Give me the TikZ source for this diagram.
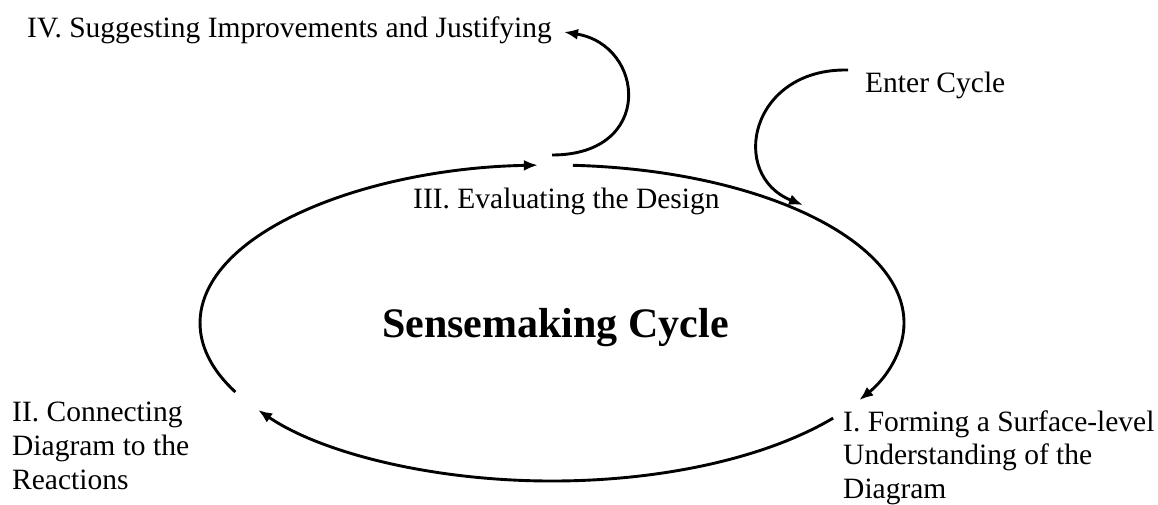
\documentclass[tikz,border=0pt]{standalone}
\usepackage{fontspec}
\setmainfont{Liberation Serif}
\usetikzlibrary{arrows.meta,calc}
\begin{document}
\begin{tikzpicture}[x=1pt,y=1pt,
  flow/.style={line width=2.9pt,-{Latex[length=14pt,width=11pt]}},
  label/.style={inner sep=0pt,font=\fontsize{29.5}{34}\selectfont,align=left},
  stage/.style={inner sep=0pt,font=\fontsize{29.5}{33.5}\selectfont,align=left}]
\useasboundingbox (0,0) rectangle (1158,-504);

% centre and radii of the cycle
\coordinate (C) at (552,-323);

% points on the cycle where the three arcs start
\coordinate (s1) at ($(C)+(86.6:352 and 158)$);
\coordinate (s2) at ($(C)+(-37:352 and 158)$);
\coordinate (s3) at ($(C)+(205.9:352 and 158)$);

% labels
\node[label,anchor=base west] (iv) at (27,-37) {IV. Suggesting Improvements and Justifying};
\node[label,anchor=base west] (enter) at (865,-92.5) {Enter Cycle};
\node[label,anchor=base west] (iii) at (413,-208) {III. Evaluating the Design};
\node[label,anchor=base west] (ii) at (12,-489) {II. Connecting\\Diagram to the\\Reactions};
\node[stage,anchor=base west] (i) at (843,-498) {I. Forming a Surface-level\\Understanding of the\\Diagram};
\node[inner sep=0pt,anchor=base,font=\fontsize{42}{48}\selectfont\bfseries] (title) at (555.5,-337) {Sensemaking Cycle};

% the three arcs of the cycle
\draw[flow] (s1) arc[start angle=86.6, end angle=-29.2, x radius=352, y radius=158] coordinate (e1);
\draw[flow] (s2) arc[start angle=-37, end angle=-146.6, x radius=352, y radius=158] coordinate (e2);
\draw[flow] (s3) arc[start angle=205.9, end angle=92.3, x radius=352, y radius=158] coordinate (e3);

% entry arrow and the branch out to IV
\coordinate (in0) at (848,-70);
\coordinate (in1) at (803,-205);
\draw[flow] (in0) .. controls (750,-68) and (728,-175) .. (in1);

\coordinate (out0) at (552,-155);
\coordinate (out1) at (564,-32);
\draw[flow] (out0) .. controls (655,-155) and (645,-45) .. (out1);
\end{tikzpicture}
\end{document}
